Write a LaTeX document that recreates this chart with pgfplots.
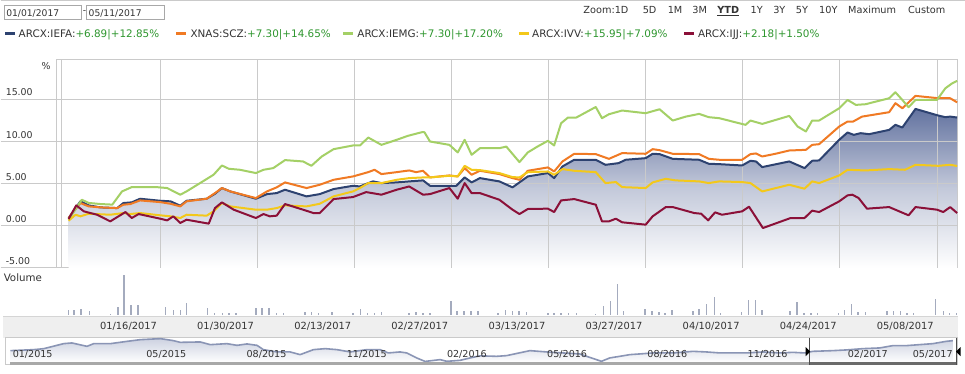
\documentclass[border=0pt]{standalone}
\usepackage{pgfplots}
\usepackage{pgfplotstable}
\pgfplotsset{compat=1.18}
\usepackage{fontspec}
\setmainfont{DejaVu Sans}

\definecolor{cIEFA}{HTML}{2D4270}
\definecolor{cSCZ}{HTML}{F07A24}
\definecolor{cIEMG}{HTML}{A4D066}
\definecolor{cIVV}{HTML}{F3C81A}
\definecolor{cIJJ}{HTML}{8B1038}
\definecolor{cGrid}{HTML}{CACACA}
\definecolor{cTxt}{HTML}{333333}
\definecolor{cPos}{HTML}{2E962E}
\definecolor{cBox}{HTML}{A8A8A8}
\definecolor{cBand}{HTML}{EFEFEF}
\definecolor{cVol}{HTML}{A4ABBE}
\definecolor{cFillTop}{HTML}{6373A0}
\definecolor{cFillMid}{HTML}{C3C9DA}
\definecolor{cNavLine}{HTML}{8A95B5}
\definecolor{cNavFill}{HTML}{CDD2E1}
\definecolor{cScroll}{HTML}{A8A8A8}
\definecolor{cScrollSel}{HTML}{6A6A6A}

\newcommand\fsDate{\fontsize{6.9pt}{8pt}\selectfont}
\newcommand\fsLeg{\fontsize{7.8pt}{9pt}\selectfont}
\newcommand\fsZoom{\fontsize{7.3pt}{9pt}\selectfont}
\newcommand\fsTick{\fontsize{7.05pt}{8pt}\selectfont}
\newcommand\fsX{\fontsize{7.4pt}{8pt}\selectfont}
\newcommand\fsNav{\fontsize{7.2pt}{8pt}\selectfont}
\newcommand\fsVol{\fontsize{7.7pt}{9pt}\selectfont}

% day 0 = 01/01/2017, values in %
\pgfplotstableread{
d v
1.8 0.91
3.5 2.89
4.7 2.41
6.4 2.17
8.8 2.09
9.7 2.69
10.9 2.77
12.1 3.20
15.0 2.96
16.5 2.89
17.9 2.37
18.8 2.96
21.7 3.20
22.9 3.79
23.9 4.47
25.1 4.07
28.8 3.20
30.4 3.75
31.8 3.87
33.0 4.27
36.1 3.48
38.0 3.75
40.0 4.35
42.8 4.74
43.8 4.66
45.0 5.06
45.7 5.26
46.9 5.06
49.1 5.14
50.9 5.26
52.9 5.38
53.9 4.74
57.7 4.74
58.9 5.73
59.9 5.14
61.1 5.65
63.9 5.26
65.8 4.55
68.0 5.85
70.9 6.25
71.8 5.65
73.0 7.04
74.7 7.83
77.8 7.83
79.2 7.23
81.1 7.43
82.1 7.83
85.0 8.02
86.0 8.54
87.0 8.50
88.9 7.94
92.7 7.83
94.1 7.35
95.6 7.31
98.9 7.15
100.1 7.71
100.9 7.63
101.8 6.96
105.7 7.63
107.9 6.84
109.0 7.71
110.0 7.75
112.9 10.20
114.1 11.07
115.0 10.79
116.0 10.99
117.2 10.87
120.1 11.38
121.0 11.98
122.0 11.66
123.9 13.87
127.2 13.08
128.2 12.89
128.9 12.96
129.9 12.85
}\iefa

\pgfplotstableread{
d v
1.8 0.91
3.5 2.69
4.7 2.29
6.4 2.17
8.8 2.09
9.7 2.49
10.7 2.57
12.1 3.00
15.0 2.80
16.5 2.60
17.9 2.29
18.8 2.89
21.7 3.20
22.9 3.87
23.9 4.47
25.1 4.07
28.8 3.28
30.4 4.07
31.8 4.55
33.0 5.14
36.1 4.47
38.0 4.86
40.0 5.45
42.8 5.85
45.0 6.36
45.9 6.64
46.9 6.13
49.1 6.36
50.9 6.56
51.9 6.36
52.9 6.52
53.9 5.73
56.7 5.97
57.9 5.85
58.9 6.84
59.9 6.05
61.1 6.52
63.9 6.13
65.8 5.65
66.8 5.45
68.0 6.52
70.9 6.92
71.8 6.44
73.0 7.63
74.7 8.54
77.8 8.50
79.7 7.94
81.6 8.62
85.0 8.54
86.0 9.09
87.0 8.97
88.9 8.54
92.7 8.50
94.1 7.94
95.6 7.83
98.9 7.83
100.1 8.50
100.9 8.58
101.8 8.22
103.7 8.54
105.7 8.93
108.1 9.01
109.0 9.60
110.0 9.68
112.9 11.78
114.1 12.37
114.9 12.37
116.2 12.96
120.1 13.48
121.0 14.55
122.0 13.95
123.9 15.42
127.2 15.14
128.9 15.14
129.9 14.65
}\scz

\pgfplotstableread{
d v
1.8 0.71
3.7 3.08
4.7 2.70
6.4 2.57
8.1 2.50
9.5 4.07
10.9 4.58
14.5 4.58
16.0 4.47
17.9 3.68
18.8 4.07
22.7 6.05
23.9 7.15
24.9 6.76
26.5 6.64
28.8 6.25
29.9 6.64
31.3 6.84
33.0 7.79
35.6 7.63
36.8 7.11
38.3 8.22
40.0 9.09
42.8 9.53
43.8 9.53
45.0 10.47
46.9 9.60
49.1 10.20
50.7 10.67
52.7 11.10
53.1 11.10
53.9 10.00
56.7 9.60
57.9 8.70
58.9 10.20
59.9 8.42
61.1 9.20
63.9 9.20
64.9 9.40
66.8 7.55
68.0 8.70
69.4 9.40
70.9 10.08
71.8 9.53
72.8 12.17
73.8 12.85
75.0 12.85
77.8 14.10
78.7 12.77
79.7 13.24
81.6 13.68
85.0 13.36
87.0 13.83
88.9 12.49
90.8 12.96
92.7 13.28
94.1 12.89
95.6 12.77
99.4 11.98
100.1 12.49
101.8 12.09
105.7 13.04
106.9 11.78
108.1 11.19
109.0 12.49
110.0 12.49
112.9 13.95
114.1 14.94
115.3 14.35
116.7 14.43
120.1 15.14
121.0 15.85
122.0 14.94
122.9 14.07
123.9 14.94
127.0 14.94
128.2 16.32
129.2 16.92
129.9 17.20
}\iemg

\pgfplotstableread{
d v
1.8 0.59
2.8 1.30
3.5 1.11
4.7 1.42
7.8 1.30
9.7 1.50
10.7 1.38
12.1 1.50
15.0 1.23
16.5 1.11
17.9 0.91
18.8 1.30
21.7 1.19
22.7 1.70
23.9 2.69
25.1 2.29
28.8 1.90
30.4 1.90
31.8 2.09
33.0 2.41
36.1 2.29
38.0 2.60
40.0 3.48
42.8 4.07
43.8 4.47
45.0 5.06
46.9 5.06
49.1 5.45
50.9 5.65
52.9 5.73
53.9 5.73
56.7 5.93
57.9 5.85
58.9 7.11
59.9 6.64
61.1 6.60
63.9 6.25
65.8 5.77
66.8 5.73
68.0 6.36
70.9 6.44
71.8 6.05
73.0 6.72
74.7 6.52
77.8 6.36
79.2 5.06
80.7 5.18
81.6 4.58
85.0 4.47
86.0 5.14
87.9 5.57
89.3 5.38
92.7 5.26
94.1 5.06
95.6 5.26
98.9 5.18
100.1 5.06
101.8 4.07
105.7 4.86
107.9 4.39
109.0 5.26
110.0 5.06
112.9 5.97
114.1 6.64
116.7 6.56
120.1 6.72
122.4 6.64
123.9 7.23
127.2 7.11
128.9 7.23
129.9 7.09
}\ivv

\pgfplotstableread{
d v
1.8 0.79
2.9 2.41
4.0 1.70
5.9 1.30
7.8 0.51
10.0 1.62
10.9 0.91
11.9 1.38
15.0 0.83
16.0 0.63
16.9 1.11
17.9 0.32
18.8 0.71
22.0 0.24
22.9 2.09
23.9 2.77
25.6 1.90
28.8 0.91
29.9 1.38
30.8 1.11
31.8 1.19
33.0 2.57
35.6 1.90
37.1 1.50
38.0 1.50
40.0 3.16
42.8 3.40
44.7 3.99
46.9 3.68
49.1 4.27
50.9 4.66
52.9 3.68
53.9 3.75
56.7 4.47
57.9 3.20
58.9 5.06
59.9 3.87
61.1 3.87
63.9 3.08
65.8 1.90
66.8 1.38
68.0 1.98
70.9 2.02
71.8 1.62
72.8 3.00
74.7 3.16
77.8 2.49
78.7 0.51
79.7 0.51
80.7 0.83
81.6 0.40
85.0 0.12
86.0 1.11
87.9 2.21
88.9 2.21
92.0 1.50
93.0 1.42
94.0 0.63
95.0 1.58
96.0 1.30
98.9 1.70
99.9 2.25
101.9 -0.28
105.9 0.91
107.9 0.91
109.0 1.78
110.0 1.62
112.9 2.89
114.1 3.60
114.8 3.68
115.7 3.28
116.9 2.02
120.1 2.21
122.9 1.23
123.9 2.21
127.0 1.90
127.9 1.62
128.9 2.21
129.9 1.50
}\ijj

\pgfplotstableread{
d v
1.8 4.3
2.6 4.3
3.6 5.7
4.8 4
7.8 1
8.9 8
9.8 40
10.8 10
11.8 10
15.8 8
16.9 5
17.9 5
18.8 12
21.8 7
22.8 2
24.0 2
24.9 2
25.9 2
28.8 7
29.7 7
30.7 7
31.8 1.5
32.8 1.5
35.9 3
36.8 3
37.8 1.5
39.8 3
42.8 1.5
43.9 6
44.9 2
45.9 1.5
46.9 3
50.9 1.5
51.9 3
52.9 2
53.9 1.5
56.9 14
57.8 4
58.8 4
59.8 4
60.8 4
63.7 2
64.8 5
65.8 4
66.7 4
67.8 3
70.9 1.5
71.8 1.5
72.8 1.5
73.9 2
75.0 1.5
77.8 1
78.9 9
79.9 14
80.9 30.7
81.8 4
84.9 6
85.9 4
86.9 3
87.8 2
88.8 5
91.8 4
92.7 6
93.8 10.7
94.9 17.7
95.8 2
98.8 3
99.8 15
100.8 15
101.8 5
105.8 4
106.8 12.7
107.8 2
108.8 2
109.8 2
112.8 2
113.7 5
114.7 10.7
115.6 3
116.7 3
119.8 4
120.7 4
121.7 4
122.7 2
123.6 2
126.8 15.7
127.9 4
128.8 2
129.8 2
}\vol

% navigator: months since 01/2015
\pgfplotstableread{
m v
0.03 14
0.73 15
1.03 16
1.62 21
1.87 21.7
2.32 18.3
2.52 21
3.02 21
3.52 23.3
3.92 25
4.52 26
4.91 24
5.11 22.3
5.71 22.7
6.01 20
6.51 21
6.81 19.3
7.11 20.7
7.41 19.3
7.60 15
8.00 12.7
8.40 12.7
8.70 10
9.10 15
9.45 16
9.80 15
10.20 12.7
10.70 15
11.09 15
11.34 11.7
11.69 12.7
11.89 11.7
12.19 6.7
12.44 3.2
12.89 5
13.09 3.3
13.49 4.3
13.79 6.7
14.08 8.8
14.58 8.3
14.88 9
15.58 14
16.08 12.7
16.57 11.7
17.07 10.7
17.42 6.7
17.72 3.3
17.97 6.7
18.27 8.3
18.57 10
18.87 10.7
19.27 11.7
19.87 11.7
20.46 13.3
20.86 12.7
21.26 11.7
21.66 11.7
22.06 11.7
22.56 12.7
23.06 11.7
23.45 12.3
23.80 11.7
24.05 13.3
24.65 14
25.05 14.7
25.55 16
26.05 16.7
26.44 19
26.84 19
27.24 20
27.64 21
28.04 23.3
28.24 24
}\nav

\begin{document}
\begin{tikzpicture}
\begin{scope}[x=0.75pt,y=-0.75pt]
\fill[white] (0,0) rectangle (965,374);
\draw[cGrid, line width=0.75pt] (0,0.5) -- (965,0.5);

% date range inputs
\draw[cBox, line width=0.75pt] (4.5,5.5) rectangle (81.5,19.5);
\node[anchor=base west, inner sep=0pt, text=cTxt] at (5.5,16.6) {\fsDate 01/01/2017};
\node[anchor=base west, inner sep=0pt, text=cTxt] at (82.3,14) {\fsDate -};
\draw[cBox, line width=0.75pt] (86.5,5.5) rectangle (164.5,19.5);
\node[anchor=base west, inner sep=0pt, text=cTxt] at (88,16.6) {\fsDate 05/11/2017};

% zoom selector
\node[anchor=base west, inner sep=0pt, text=cTxt] at (583.3,14) {\fsZoom Zoom:1D};
\node[anchor=base west, inner sep=0pt, text=cTxt] at (642.7,14) {\fsZoom 5D};
\node[anchor=base west, inner sep=0pt, text=cTxt] at (667.7,14) {\fsZoom 1M};
\node[anchor=base west, inner sep=0pt, text=cTxt] at (692.3,14) {\fsZoom 3M};
\node[anchor=base west, inner sep=0pt, text=cTxt] at (717.3,14) {\fsZoom\bfseries YTD};
\node[anchor=base west, inner sep=0pt, text=cTxt] at (750.7,14) {\fsZoom 1Y};
\node[anchor=base west, inner sep=0pt, text=cTxt] at (773.3,14) {\fsZoom 3Y};
\node[anchor=base west, inner sep=0pt, text=cTxt] at (796,14) {\fsZoom 5Y};
\node[anchor=base west, inner sep=0pt, text=cTxt] at (819.3,14) {\fsZoom 10Y};
\node[anchor=base west, inner sep=0pt, text=cTxt] at (848.3,14) {\fsZoom Maximum};
\node[anchor=base west, inner sep=0pt, text=cTxt] at (908.3,14) {\fsZoom Custom};
\draw[cTxt, line width=0.75pt] (717.3,16) -- (739.6,16);

% legend
\fill[cIEFA] (5,32.5) rectangle (15,35.5);
\node[anchor=base west, inner sep=0pt] at (18,37.5) {\fsLeg\color{cTxt}ARCX:IEFA:\color{cPos}+6.89|+12.85\%};
\fill[cSCZ] (176,32.5) rectangle (186,35.5);
\node[anchor=base west, inner sep=0pt] at (190,37.5) {\fsLeg\color{cTxt}XNAS:SCZ:\color{cPos}+7.30|+14.65\%};
\fill[cIEMG] (343,32.5) rectangle (353,35.5);
\node[anchor=base west, inner sep=0pt] at (357,37.5) {\fsLeg\color{cTxt}ARCX:IEMG:\color{cPos}+7.30|+17.20\%};
\fill[cIVV] (519,32.5) rectangle (529,35.5);
\node[anchor=base west, inner sep=0pt] at (532,37.5) {\fsLeg\color{cTxt}ARCX:IVV:\color{cPos}+15.95|+7.09\%};
\fill[cIJJ] (684,32.5) rectangle (694,35.5);
\node[anchor=base west, inner sep=0pt] at (698,37.5) {\fsLeg\color{cTxt}ARCX:IJJ:\color{cPos}+2.18|+1.50\%};

% gridline extensions into the label area
\draw[cGrid, line width=0.75pt] (0,99.5) -- (55.7,99.5);
\draw[cGrid, line width=0.75pt] (0,141.6) -- (55.7,141.6);
\draw[cGrid, line width=0.75pt] (0,183.7) -- (55.7,183.7);
\draw[cGrid, line width=0.75pt] (0,225.9) -- (55.7,225.9);
\draw[cGrid, line width=0.75pt] (0,268) -- (55.7,268);
\node[anchor=base west, inner sep=0pt, text=cTxt] at (41,69.3) {\fsTick\%};

% date band and navigator frame
\fill[cBand] (3,317) rectangle (958.3,338);
\draw[cGrid!80, line width=0.75pt] (3,317) -- (958.3,317);
\draw[cGrid, line width=0.75pt] (5,338) rectangle (958.3,365);

\node[anchor=base west, inner sep=0pt, text=cTxt] at (3,281.7) {\fsVol Volume};

\coordinate (mainNW) at (55.7,59.5);
\coordinate (volNW) at (55.7,271);
\coordinate (navNW) at (9,338);
\end{scope}

% main chart
\begin{axis}[
  at={(mainNW)}, anchor=north west, scale only axis,
  width=676.95pt, height=156.4pt,
  xmin=0, xmax=130, ymin=-5, ymax=19.75,
  axis line style={draw=cGrid, line width=0.75pt},
  xtick=\empty,
  ytick={-5,0,5,10,15}, yticklabels={-5.00,0.00,5.00,10.00,15.00},
  major tick length=0pt,
  yticklabel style={anchor=base west, inner sep=0pt, xshift=-38pt, yshift=2.6pt, font=\fsTick, text=cTxt},
]
\addplot[draw=none, top color=cFillTop, bottom color=white, middle color=cFillMid]
  table[x=d,y=v]{\iefa} -- (axis cs:129.9,-5) -- (axis cs:1.8,-5) -- cycle;
\pgfplotsinvokeforeach{0.75,15,29,43,57,71,85,99,113,127}{
  \draw[cGrid, line width=0.75pt] (axis cs:#1,-5) -- (axis cs:#1,19.75);
}
\pgfplotsinvokeforeach{0,5,10,15}{
  \draw[cGrid, line width=0.75pt] (axis cs:0,#1) -- (axis cs:130,#1);
}
\addplot[cIEFA, line width=1.5pt, line join=round] table[x=d,y=v]{\iefa};
\addplot[cSCZ, line width=1.5pt, line join=round] table[x=d,y=v]{\scz};
\addplot[cIEMG, line width=1.5pt, line join=round] table[x=d,y=v]{\iemg};
\addplot[cIVV, line width=1.5pt, line join=round] table[x=d,y=v]{\ivv};
\addplot[cIJJ, line width=1.5pt, line join=round] table[x=d,y=v]{\ijj};
\end{axis}

% volume pane with date labels
\begin{axis}[
  at={(volNW)}, anchor=north west, scale only axis,
  width=676.95pt, height=33pt,
  xmin=0, xmax=130, ymin=0, ymax=44,
  axis line style={draw=none}, major tick length=0pt,
  ytick=\empty,
  xtick={15,29,43,57,71,85,99,113,127},
  xticklabels={01/16/2017,01/30/2017,02/13/2017,02/27/2017,03/13/2017,03/27/2017,04/10/2017,04/24/2017,05/08/2017},
  xticklabel style={anchor=base east, inner sep=0pt, xshift=-2.25pt, yshift=-11.25pt, font=\fsX, text=cTxt},
]
\addplot[ycomb, cVol, line width=1.1pt] table[x=d,y=v]{\vol};
\end{axis}

% navigator
\begin{axis}[
  at={(navNW)}, anchor=north west, scale only axis,
  axis on top,
  width=711pt, height=18.75pt,
  xmin=0, xmax=28.35, ymin=2, ymax=27,
  axis line style={draw=none}, major tick length=0pt,
  ytick=\empty,
  xtick={0,4,7,10,13,16,19,22,25},
  xticklabels={01/2015,05/2015,08/2015,11/2015,02/2016,05/2016,08/2016,11/2016,02/2017},
  xticklabel style={anchor=base west, inner sep=0pt, xshift=2.25pt, yshift=3.98pt, font=\fsNav, text=cTxt},
]
\addplot[draw=none, top color=cNavFill, bottom color=white]
  table[x=m,y=v]{\nav} -- (axis cs:28.24,2) -- (axis cs:0.03,2) -- cycle;
\addplot[cNavLine, line width=1.2pt, line join=round] table[x=m,y=v]{\nav};
\end{axis}

\begin{scope}[x=0.75pt,y=-0.75pt]
\node[anchor=base west, inner sep=0pt, text=cTxt] at (913,357.7) {\fsNav 05/2017};
% navigator selection and scrollbar
\fill[cScroll] (10,362) rectangle (956,365);
\fill[cScrollSel] (810,362) rectangle (956,365.5);
\draw[black!70, line width=0.75pt] (810,338) -- (810,365);
\draw[black!70, line width=0.75pt] (956.5,338) -- (956.5,365);
\fill[black] (806,347.5) -- (810.5,352) -- (806,356.5) -- cycle;
\fill[black] (961,347.5) -- (956.5,352) -- (961,356.5) -- cycle;
\end{scope}
\end{tikzpicture}
\end{document}
